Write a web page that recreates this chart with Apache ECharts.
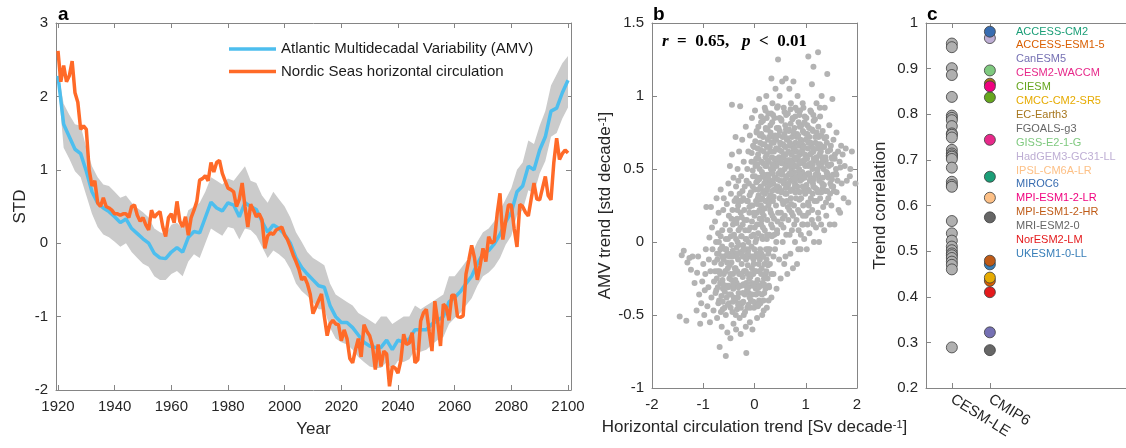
<!DOCTYPE html>
<html>
<head>
<meta charset="utf-8">
<title>AMV and Nordic Seas circulation</title>
<script src="https://cdn.jsdelivr.net/npm/echarts@6/dist/echarts.min.js"></script>
<style>
html,body{margin:0;padding:0;background:#fff;}
#main{width:1126px;height:448px;}
</style>
</head>
<body>
<div id="main"></div>
<script>
// ---------- panel a: time series ----------
var nordicYears = [];
for (var y = 1920; y <= 2100; y++) nordicYears.push(y);
var amvYears = [];
for (var y2 = 1920; y2 <= 2100; y2 += 2) amvYears.push(y2);

var nordic = [
  2.62, 2.20, 2.42, 2.20, 2.28, 2.48, 2.05, 1.92, 1.55, 1.60,
  1.55, 1.00, 0.78, 0.85, 0.55, 0.50, 0.62, 0.50, 0.48, 0.45,
  0.40, 0.40, 0.38, 0.40, 0.40, 0.35, 0.50, 0.52, 0.38, 0.30,
  0.35, 0.25, 0.18, 0.45, 0.35, 0.40, 0.43, 0.22, 0.09, 0.35,
  0.40, 0.28, 0.57, 0.30, 0.22, 0.36, 0.11, 0.35, 0.45, 0.57,
  0.86, 0.88, 0.92, 0.85, 1.10, 0.97, 1.10, 1.13, 0.95, 0.85,
  0.75, 0.73, 0.70, 0.50, 0.60, 0.82, 0.50, 0.22, 0.53, 0.45,
  0.36, 0.40, 0.32, -0.07, 0.10, 0.14, 0.12, 0.18, 0.20, 0.22,
  0.11, 0.05, -0.05, -0.16, -0.25, -0.35, -0.50, -0.46, -0.55, -0.69,
  -0.96, -0.87, -0.78, -0.69, -1.00, -1.26, -1.10, -1.05, -1.10, -1.11,
  -1.33, -1.18, -1.30, -1.57, -1.63, -1.45, -1.30, -1.55, -1.11, -1.20,
  -1.26, -1.40, -1.72, -1.38, -1.68, -1.47, -1.51, -1.95, -1.68, -1.70,
  -1.77, -1.60, -1.24, -1.38, -1.36, -1.22, -1.63, -1.59, -1.06, -0.95,
  -0.90, -1.20, -1.47, -0.79, -1.06, -1.40, -0.83, -0.87, -1.05, -0.71,
  -0.71, -1.00, -1.01, -0.99, -0.42, -0.23, -0.03, -0.20, -0.50, -0.30,
  -0.07, -0.25, 0.09, 0.00, 0.03, 0.40, 0.68, 0.05, 0.30, 0.52,
  0.52, 0.20, -0.05, 0.53, 0.50, 0.42, 0.37, 0.60, 0.82, 0.60,
  0.59, 0.75, 0.91, 0.65, 0.59, 1.10, 1.43, 1.14, 1.22, 1.27,
  1.23
];
var amv = [
  2.28, 1.62, 1.45, 1.28, 1.22,
  0.98, 0.70, 0.55, 0.48, 0.43,
  0.36, 0.28, 0.33, 0.20, 0.13,
  0.06, 0.00, -0.14, -0.20, -0.21,
  -0.12, -0.06, -0.12, 0.08, 0.16,
  0.14, 0.35, 0.56, 0.48, 0.44,
  0.55, 0.52, 0.36, 0.55, 0.50,
  0.46, 0.30, 0.15, 0.25, 0.20,
  0.12, 0.00, -0.20, -0.33, -0.42,
  -0.50, -0.58, -0.60, -0.85, -1.00,
  -1.08, -1.08, -1.15, -1.25, -1.35,
  -1.40, -1.42, -1.42, -1.32, -1.45,
  -1.32, -1.35, -1.30, -1.18, -1.18,
  -1.18, -1.10, -1.05, -1.00, -0.80,
  -0.74, -0.66, -0.55, -0.45, -0.28,
  -0.14, -0.10, -0.01, 0.12, 0.29,
  0.42, 0.70, 0.78, 1.05, 1.00,
  1.27, 1.45, 1.80, 1.84, 2.05,
  2.22
];
var amvHigh = [
  2.35, 1.90, 1.75, 1.62, 1.60,
  1.30, 1.05, 0.90, 0.80, 0.78,
  0.70, 0.62, 0.65, 0.55, 0.48,
  0.42, 0.35, 0.20, 0.15, 0.12,
  0.25, 0.28, 0.20, 0.45, 0.50,
  0.55, 0.70, 0.90, 0.85, 0.80,
  0.88, 0.85, 0.95, 1.05, 0.85,
  0.82, 0.65, 0.55, 0.70, 0.60,
  0.50, 0.35, 0.15, 0.02, -0.12,
  -0.20, -0.25, -0.30, -0.55, -0.70,
  -0.75, -0.80, -0.85, -0.95, -1.00,
  -1.05, -1.10, -1.00, -1.00, -1.10,
  -1.05, -1.00, -1.00, -0.85, -0.90,
  -0.85, -0.80, -0.75, -0.70, -0.45,
  -0.45, -0.35, -0.25, -0.15, 0.02,
  0.15, 0.20, 0.30, 0.45, 0.60,
  0.75, 1.00, 1.10, 1.40, 1.35,
  1.60, 1.80, 2.15, 2.30, 2.45,
  2.55
];
var amvLow = [
  2.20, 1.30, 1.15, 0.98, 0.90,
  0.65, 0.40, 0.22, 0.12, 0.08,
  0.02, -0.05, 0.00, -0.12, -0.20,
  -0.28, -0.32, -0.45, -0.50, -0.50,
  -0.42, -0.38, -0.45, -0.25, -0.15,
  -0.20, 0.00, 0.20, 0.15, 0.10,
  0.22, 0.20, 0.05, 0.20, 0.18,
  0.10, -0.05, -0.20, -0.10, -0.15,
  -0.22, -0.35, -0.55, -0.65, -0.72,
  -0.80, -0.90, -0.90, -1.15, -1.30,
  -1.35, -1.38, -1.45, -1.55, -1.62,
  -1.68, -1.70, -1.70, -1.62, -1.72,
  -1.60, -1.62, -1.58, -1.45, -1.48,
  -1.45, -1.38, -1.32, -1.28, -1.10,
  -1.02, -0.95, -0.85, -0.75, -0.58,
  -0.45, -0.40, -0.32, -0.20, -0.02,
  0.10, 0.38, 0.45, 0.72, 0.68,
  0.95, 1.12, 1.45, 1.50, 1.70,
  1.85
];
var yearTicks = [1920, 1940, 1960, 1980, 2000, 2020, 2040, 2060, 2080, 2100];

// ---------- panel b: trend scatter [circulation trend, AMV trend] ----------
var trendPts = [
  [-1.46,-0.51],[-1.42,-0.09],[-1.38,-0.06],[-1.33,-0.54],[-1.31,-0.14],[-1.27,-0.11],
  [-1.24,-0.19],[-1.21,-0.1],[-1.17,-0.28],[-1.13,-0.47],[-1.12,-0.21],[-1.08,-0.36],[-1.1,-0.1],[-1.06,-0.56],
  [-1.04,-0.42],[-1.02,-0.27],[-1.0,-0.15],[-0.98,-0.5],[-0.97,-0.33],[-0.95,-0.05],[-0.96,-0.22],[-0.94,0.24],
  [-0.92,-0.44],[-0.9,-0.31],[-0.89,-0.12],[-0.88,0.03],[-0.87,-0.55],[-0.86,-0.2],[-0.85,0.24],[-0.84,-0.38],[-0.83,0.1],[-0.82,-0.05],
  [-0.8,-0.47],[-0.79,-0.27],[-0.78,-0.14],[-0.77,0.14],[-0.76,-0.35],[-0.75,0.0],[-0.74,0.3],[-0.73,-0.52],[-0.72,-0.2],[-0.71,0.06],[-0.7,-0.08],[-0.7,0.2],
  [-0.69,-0.4],[-0.68,-0.72],[-0.67,-0.28],[-0.66,0.36],[-0.65,-0.15],[-0.64,-0.58],[-0.63,0.08],[-0.63,-0.03],[-0.62,-0.46],[-0.61,0.22],[-0.6,-0.22],[-0.6,0.3],[-0.59,-0.1],[-0.58,-0.34],
  [-0.57,0.12],[-0.56,-0.78],[-0.56,-0.5],[-0.55,-0.05],[-0.54,0.26],[-0.54,-0.3],[-0.53,-0.62],[-0.52,0.02],[-0.52,-0.18],[-0.51,0.4],[-0.5,-0.42],[-0.5,0.18],[-0.49,-0.1],[-0.49,-0.25],[-0.48,0.52],[-0.48,0.08],
  [-0.47,-0.66],[-0.46,-0.36],[-0.46,0.33],[-0.45,-0.14],[-0.45,-0.02],[-0.44,0.94],[-0.44,0.6],[-0.43,-0.48],[-0.43,0.22],[-0.42,-0.22],[-0.42,0.12],[-0.41,-0.56],[-0.41,0.44],[-0.4,-0.3],[-0.4,0.05],[-0.39,-0.08],[-0.39,0.28],[-0.38,-0.4],
  [-0.37,0.72],[-0.37,-0.18],[-0.36,-0.6],[-0.36,0.38],[-0.35,-0.04],[-0.35,-0.28],[-0.34,0.16],[-0.34,-0.46],[-0.33,0.5],[-0.33,0.0],[-0.32,-0.12],[-0.32,0.25],[-0.31,-0.35],[-0.31,0.08],[-0.3,-0.22],[-0.3,0.62],[-0.29,-0.52],[-0.29,0.33],[-0.28,-0.07],[-0.28,0.93],
  [-0.27,-0.63],[-0.27,0.2],[-0.26,-0.3],[-0.26,0.45],[-0.25,-0.15],[-0.25,0.04],[-0.24,-0.42],[-0.24,0.7],[-0.23,0.12],[-0.23,-0.24],[-0.22,0.3],[-0.22,-0.02],[-0.21,-0.5],[-0.21,0.55],[-0.2,-0.1],[-0.2,0.22],[-0.19,-0.36],[-0.19,0.38],[-0.18,-0.2],[-0.18,0.08],[-0.17,0.79],[-0.17,-0.58],
  [-0.16,-0.76],[-0.16,-0.28],[-0.15,0.15],[-0.15,-0.05],[-0.14,0.5],[-0.14,-0.45],[-0.13,0.28],[-0.13,-0.16],[-0.12,0.62],[-0.12,0.0],[-0.11,-0.35],[-0.11,0.4],[-0.1,-0.1],[-0.1,0.2],[-0.09,-0.55],[-0.09,0.73],[-0.08,-0.24],[-0.08,0.1],[-0.07,0.34],[-0.07,-0.4],[-0.06,0.55],[-0.06,-0.03],[-0.05,0.85],[-0.05,-0.18],
  [-0.04,-0.6],[-0.04,0.25],[-0.03,-0.3],[-0.03,0.45],[-0.02,0.05],[-0.02,-0.12],[-0.01,0.65],[-0.01,-0.45],[0.0,0.18],[0.0,0.36],[0.01,-0.2],[0.01,0.9],[0.02,0.0],[0.02,0.52],[0.03,-0.36],[0.03,0.28],[0.04,-0.08],[0.04,0.75],[0.05,0.12],[0.05,-0.52],[0.06,0.42],[0.06,-0.26],[0.07,0.6],[0.07,0.06],[0.08,0.32],[0.08,-0.15],
  [0.09,0.98],[0.09,-0.4],[0.1,0.22],[0.1,0.5],[0.11,-0.05],[0.11,0.68],[0.12,-0.3],[0.12,0.38],[0.13,0.12],[0.13,0.82],[0.14,-0.18],[0.14,0.55],[0.15,0.3],[0.15,-0.5],[0.16,0.02],[0.16,0.45],[0.17,0.72],[0.17,-0.1],[0.18,0.18],[0.18,0.62],[0.19,-0.35],[0.19,0.4],[0.2,0.92],[0.2,0.08],[0.21,0.28],[0.21,0.52],[0.22,-0.22],[0.22,0.78],
  [0.23,1.0],[0.23,0.35],[0.24,-0.45],[0.24,0.6],[0.25,0.15],[0.25,0.46],[0.26,-0.05],[0.26,0.7],[0.27,0.25],[0.27,0.88],[0.28,-0.3],[0.28,0.55],[0.29,0.05],[0.29,0.4],[0.3,0.65],[0.3,-0.15],[0.31,0.32],[0.31,0.8],[0.32,0.5],[0.32,0.2],[0.33,1.12],[0.33,-0.38],[0.34,0.58],[0.34,0.42],[0.35,0.1],[0.35,0.95],[0.36,0.28],[0.36,0.72],
  [0.37,-0.22],[0.37,0.5],[0.38,0.62],[0.38,0.16],[0.39,0.85],[0.39,0.36],[0.4,-0.05],[0.4,0.56],[0.41,0.44],[0.41,1.05],[0.42,0.25],[0.42,0.7],[0.43,-0.32],[0.43,0.52],[0.44,0.08],[0.44,0.92],[0.45,0.38],[0.45,0.64],[0.46,1.25],[0.46,0.2],[0.47,0.78],[0.47,0.47],[0.48,-0.12],[0.48,0.58],[0.49,0.3],[0.49,1.0],[0.5,0.68],[0.5,0.42],
  [0.51,-0.25],[0.51,0.55],[0.52,0.12],[0.52,0.84],[0.53,0.35],[0.53,0.62],[0.54,0.48],[0.54,1.1],[0.55,0.0],[0.55,0.72],[0.56,0.26],[0.56,0.58],[0.57,0.92],[0.57,0.4],[0.58,-0.15],[0.58,0.66],[0.59,0.5],[0.59,0.18],[0.6,0.8],[0.6,0.33],[0.61,1.12],[0.61,0.6],[0.62,0.45],[0.62,0.05],[0.63,0.7],[0.63,0.28],
  [0.64,-0.22],[0.64,0.52],[0.65,0.88],[0.65,0.38],[0.66,0.62],[0.66,0.15],[0.67,0.76],[0.67,0.46],[0.68,1.05],[0.68,0.22],[0.69,0.56],[0.69,0.66],[0.7,-0.08],[0.7,0.42],[0.71,0.95],[0.71,0.3],[0.72,0.6],[0.72,0.5],[0.73,0.72],[0.73,0.08],[0.74,0.84],[0.74,0.36],[0.75,0.55],[0.75,-0.18],[0.76,0.65],[0.76,1.1],
  [0.77,0.25],[0.77,0.48],[0.78,0.78],[0.78,0.58],[0.79,0.0],[0.79,0.4],[0.8,0.92],[0.8,0.68],[0.81,0.3],[0.81,0.52],[0.82,0.15],[0.82,0.62],[0.83,-0.15],[0.83,0.74],[0.84,0.45],[0.84,1.0],[0.85,0.56],[0.85,0.35],[0.86,0.82],[0.86,0.08],[0.87,0.66],[0.87,0.5],[0.88,0.2],[0.88,0.6],
  [0.89,0.9],[0.89,0.42],[0.9,0.7],[0.9,-0.05],[0.91,0.55],[0.91,0.3],[0.92,0.62],[0.92,0.8],[0.93,0.12],[0.93,0.48],[0.94,0.95],[0.94,0.38],[0.95,0.66],[0.95,0.25],[0.96,0.56],[0.96,0.75],[0.97,0.02],[0.97,0.45],[0.98,0.6],[0.98,0.86],[0.99,0.33],[0.99,0.52],
  [1.0,0.7],[1.0,0.18],[1.01,0.58],[1.02,-0.05],[1.02,0.46],[1.03,0.8],[1.04,0.36],[1.04,0.64],[1.05,1.27],[1.05,0.52],[1.06,0.25],[1.07,0.72],[1.07,0.06],[1.08,0.6],[1.08,0.42],[1.09,0.9],[1.1,0.54],[1.1,0.3],[1.11,0.66],[1.12,1.08],
  [1.12,0.15],[1.13,0.5],[1.14,0.76],[1.14,0.4],[1.15,1.2],[1.15,0.62],[1.16,0.0],[1.17,0.56],[1.17,0.28],[1.18,0.84],[1.19,0.46],[1.19,0.68],[1.2,0.1],[1.21,0.58],[1.21,0.95],[1.22,0.36],[1.23,0.64],[1.23,0.5],
  [1.24,1.3],[1.24,0.2],[1.25,0.72],[1.26,0.44],[1.26,0.0],[1.27,0.6],[1.28,0.86],[1.28,0.3],[1.29,0.52],[1.3,0.66],[1.3,0.12],[1.31,1.0],[1.32,0.4],[1.32,0.58],[1.33,0.76],[1.34,0.24],
  [1.35,0.5],[1.36,0.65],[1.36,0.08],[1.37,0.92],[1.38,0.35],[1.39,0.56],[1.4,0.72],[1.4,0.18],[1.41,0.45],[1.42,1.15],[1.43,0.62],[1.44,0.3],
  [1.45,0.52],[1.46,0.8],[1.47,0.12],[1.48,0.4],[1.49,0.66],[1.5,0.25],[1.51,0.58],[1.52,0.98],[1.53,0.46],[1.54,0.7],
  [1.55,0.35],[1.56,0.12],[1.57,0.6],[1.59,0.5],[1.6,0.75],[1.62,0.42],[1.63,0.62],[1.64,0.22],
  [1.66,0.55],[1.67,0.2],[1.69,0.66],[1.7,0.4],[1.72,0.6],[1.74,0.3],[1.76,0.52],[1.78,0.64],
  [1.8,0.42],[1.83,0.27],[1.86,0.45],[1.87,0.5],[1.9,0.62],[1.97,0.4],
  // dense lower lobe
  [-0.745,-0.33],[-0.725,-0.12],[-0.705,-0.42],[-0.685,-0.2],[-0.665,-0.05],[-0.645,-0.37],[-0.625,-0.26],[-0.605,-0.12],[-0.585,-0.45],[-0.565,-0.2],
  [-0.545,-0.38],[-0.525,-0.08],[-0.505,-0.3],[-0.485,-0.16],[-0.465,-0.45],[-0.445,-0.26],[-0.425,-0.06],[-0.405,-0.38],[-0.385,-0.18],[-0.365,-0.5],
  [-0.345,-0.1],[-0.325,-0.38],[-0.305,-0.02],[-0.285,-0.3],[-0.265,-0.45],[-0.245,-0.07],[-0.225,-0.35],[-0.205,-0.2],[-0.185,-0.48],[-0.165,-0.12],
  [-0.145,-0.33],[-0.125,-0.06],[-0.105,-0.25],[-0.085,-0.45],[-0.065,-0.1],[-0.045,-0.36],[-0.025,-0.22],[-0.005,-0.05],[0.015,-0.42],[0.035,-0.28],
  [0.055,-0.1],[0.075,-0.35],[0.095,-0.2],[0.115,-0.42],[0.135,-0.08],[0.155,-0.28],[0.175,-0.4],[0.195,-0.15],[0.215,-0.32],[0.235,-0.12],
  [0.255,-0.25],[0.275,-0.4],[0.295,-0.05],
  [-0.735,-0.25],[-0.695,0.0],[-0.655,-0.48],[-0.615,-0.32],[-0.575,-0.05],[-0.535,-0.14],[-0.495,-0.36],[-0.455,-0.08],[-0.415,-0.32],[-0.375,-0.26],
  [-0.335,-0.2],[-0.295,-0.42],[-0.255,-0.22],[-0.215,-0.05],[-0.175,-0.3],[-0.135,-0.22],[-0.095,-0.38],[-0.055,-0.28],[-0.015,-0.15],[0.025,-0.32],
  [0.065,-0.44],[0.105,-0.12],[0.145,-0.36],[0.185,-0.25],[0.225,-0.05],[0.265,-0.16],
  [-0.62,-0.41],[-0.52,-0.43],[-0.42,-0.41],[-0.32,-0.43],[-0.22,-0.41],[-0.12,-0.43],[-0.02,-0.41],[0.08,-0.43],[0.18,-0.47],
  [-0.715,-0.31],[-0.615,-0.29],[-0.515,-0.31],[-0.415,-0.29],[-0.315,-0.31],[-0.215,-0.29],[-0.115,-0.31],[-0.015,-0.29],[0.085,-0.31],[0.185,-0.29],[0.285,-0.31],
  [-0.77,-0.2],[-0.67,-0.22],[-0.57,-0.2],[-0.47,-0.22],[-0.37,-0.2],[-0.27,-0.22],[-0.17,-0.2],[-0.07,-0.22],[0.03,-0.2],[0.13,-0.22],[0.23,-0.2],[0.33,-0.22],
  [-0.73,-0.08],[-0.63,-0.1],[-0.53,-0.08],[-0.43,-0.1],[-0.33,-0.08],[-0.23,-0.1],[-0.13,-0.08],[-0.03,-0.1],[0.07,-0.08],[0.17,-0.1],[0.27,-0.08],[0.37,-0.1],
  [-0.66,0.04],[-0.56,0.02],[-0.46,0.04],[-0.36,0.02],[-0.26,0.04],[-0.16,0.02],[-0.06,0.04],[0.04,0.02],[0.14,0.04],[0.24,0.02],[0.34,0.04],[0.44,0.06],
  // link between the lobes
  [-0.395,0.15],[-0.355,0.3],[-0.315,0.42],[-0.275,0.1],[-0.235,0.35],[-0.195,0.15],[-0.155,0.42],[-0.115,0.08],[-0.075,0.25],[-0.035,0.38],
  [0.005,0.1],[0.045,0.2],[0.085,0.44],[0.125,0.25],[0.165,0.1],[0.205,0.35],[0.245,0.05],[0.285,0.3],[0.325,0.12],[0.365,0.4],
  [-0.335,0.22],[-0.255,0.28],[-0.175,0.02],[-0.095,0.32],[-0.015,0.2],[0.065,0.3],[0.145,0.15],[0.225,0.42],[0.305,0.22],[0.385,0.05],
  [-0.45,0.16],[-0.35,0.13],[-0.25,0.17],[-0.15,0.28],[-0.05,0.14],[0.05,0.26],[0.15,0.2],[0.25,0.28],[0.35,0.18],[0.45,0.14],
  [0.55,0.16],[0.65,0.24],[0.75,0.18],[0.85,0.22],[0.95,0.12],[1.05,0.2],[1.15,0.12],[1.25,0.16],[-0.3,0.28],[-0.1,0.24],[0.1,0.16],[0.2,0.23],
  // dense upper core
  [0.115,0.29],[0.205,0.33],[0.285,0.27],[0.375,0.31],[0.455,0.35],[0.545,0.28],[0.625,0.33],[0.715,0.26],[0.795,0.34],[0.875,0.29],
  [0.965,0.35],[1.045,0.27],[1.135,0.33],[1.215,0.28],[1.305,0.34],[1.395,0.27],[1.475,0.33],
  [0.035,0.41],[0.125,0.37],[0.215,0.43],[0.305,0.39],[0.395,0.44],[0.485,0.37],[0.575,0.42],[0.665,0.4],[0.745,0.45],[0.835,0.38],
  [0.925,0.43],[1.015,0.39],[1.095,0.44],[1.185,0.37],[1.265,0.42],[1.355,0.39],[1.445,0.44],[1.535,0.38],
  [-0.035,0.49],[0.055,0.53],[0.145,0.48],[0.235,0.52],[0.325,0.47],[0.415,0.54],[0.505,0.49],[0.595,0.53],[0.685,0.47],[0.775,0.52],
  [0.865,0.48],[0.955,0.54],[1.045,0.47],[1.135,0.53],[1.225,0.49],[1.315,0.54],[1.405,0.48],[1.495,0.53],[1.585,0.47],[1.675,0.51],
  [-0.055,0.61],[0.035,0.57],[0.125,0.63],[0.215,0.58],[0.305,0.62],[0.395,0.57],[0.485,0.63],[0.575,0.6],[0.665,0.56],[0.755,0.62],
  [0.845,0.58],[0.935,0.63],[1.025,0.57],[1.115,0.61],[1.205,0.56],[1.295,0.62],[1.385,0.58],[1.475,0.63],[1.565,0.57],
  [0.015,0.69],[0.105,0.73],[0.195,0.67],[0.285,0.72],[0.375,0.68],[0.465,0.73],[0.555,0.67],[0.645,0.71],[0.735,0.66],[0.825,0.72],
  [0.915,0.68],[1.005,0.74],[1.095,0.68],[1.185,0.72],[1.275,0.67],[1.365,0.71],
  [0.075,0.79],[0.165,0.83],[0.255,0.77],[0.345,0.82],[0.435,0.78],[0.525,0.83],[0.615,0.77],[0.705,0.81],[0.795,0.86],[0.885,0.79],
  [0.975,0.82],[1.065,0.78],[1.155,0.83],[1.245,0.79],
  [0.215,0.9],[0.325,0.88],[0.455,0.93],[0.585,0.89],[0.705,0.91],[0.835,0.9],[0.955,0.92],[1.105,0.89],[1.275,0.92],
  [0.425,0.0],[0.515,0.2],[0.605,-0.1],[0.685,0.05],[0.775,0.12],[0.855,-0.05],[0.945,0.18],[1.035,0.12],[1.125,0.22],[0.565,0.1],
  [0.725,0.2],[0.905,0.05],
  [0.072,0.36],[0.168,0.34],[0.251,0.37],[0.342,0.35],[0.431,0.38],[0.522,0.34],[0.611,0.37],[0.703,0.35],[0.788,0.38],[0.879,0.34],
  [0.972,0.37],[1.063,0.35],[1.149,0.38],[1.238,0.34],[1.331,0.37],[1.418,0.35],[1.505,0.38],[1.602,0.34],
  [0.008,0.45],[0.092,0.43],[0.181,0.46],[0.268,0.44],[0.357,0.47],[0.446,0.43],[0.532,0.46],[0.621,0.44],[0.712,0.47],[0.801,0.43],
  [0.889,0.46],[0.978,0.44],[1.067,0.47],[1.158,0.43],[1.244,0.46],[1.333,0.44],[1.422,0.47],[1.511,0.43],[1.598,0.46],
  [-0.012,0.55],[0.078,0.57],[0.167,0.54],[0.259,0.56],[0.348,0.53],[0.437,0.57],[0.528,0.54],[0.617,0.56],[0.706,0.53],[0.797,0.57],
  [0.886,0.54],[0.977,0.56],[1.066,0.53],[1.155,0.57],[1.244,0.54],[1.335,0.56],[1.424,0.53],[1.513,0.57],
  [-0.028,0.66],[0.061,0.64],[0.152,0.67],[0.241,0.65],[0.332,0.68],[0.421,0.64],[0.512,0.67],[0.601,0.65],[0.692,0.68],[0.781,0.64],
  [0.872,0.67],[0.961,0.65],[1.052,0.68],[1.141,0.64],[1.232,0.67],[1.321,0.65],[1.412,0.68],
  [0.043,0.76],[0.132,0.74],[0.223,0.77],[0.312,0.75],[0.403,0.73],[0.492,0.76],[0.583,0.74],[0.672,0.77],[0.763,0.75],[0.852,0.73],
  [0.943,0.76],[1.032,0.74],[1.123,0.77],[1.212,0.75],[1.303,0.73],
  [0.128,0.86],[0.238,0.85],[0.362,0.87],[0.488,0.85],[0.618,0.87],[0.745,0.85],[0.878,0.87],[1.012,0.85],[1.148,0.87]
];

// ---------- panel c: trend correlation ----------
var cesmCorr = [0.955, 0.947, 0.901, 0.886, 0.838, 0.797, 0.792, 0.787, 0.774, 0.758, 0.755, 0.749,
  0.722, 0.714, 0.71, 0.707, 0.702, 0.683, 0.652, 0.645, 0.641, 0.566, 0.539, 0.523, 0.51,
  0.502, 0.495, 0.491, 0.485, 0.477, 0.47, 0.46, 0.289];
var cmipModels = ['ACCESS-CM2', 'ACCESS-ESM1-5', 'CanESM5', 'CESM2-WACCM', 'CIESM', 'CMCC-CM2-SR5',
  'EC-Earth3', 'FGOALS-g3', 'GISS-E2-1-G', 'HadGEM3-GC31-LL', 'IPSL-CM6A-LR', 'MIROC6',
  'MPI-ESM1-2-LR', 'MPI-ESM1-2-HR', 'MRI-ESM2-0', 'NorESM2-LM', 'UKESM1-0-LL'];
var cmipCorr = [0.663, 0.435, 0.322, 0.744, 0.837, 0.442, 0.867, 0.283, 0.896, 0.967, 0.617, 0.981,
  0.861, 0.479, 0.574, 0.41, 0.471];
var cmipColors = ['#1b9e77', '#d95f02', '#7570b3', '#e7298a', '#66a61e', '#e6ab02', '#a6761d', '#666666',
  '#7fc97f', '#beaed4', '#fdc086', '#386cb0', '#f0027f', '#bf5b17', '#666666', '#e41a1c', '#377eb8'];
var groupNames = ['CESM-LE', 'CMIP6'];

var axisColor = '#858585';
var textColor = '#262626';
var fontFam = '"Liberation Sans", Arial, Helvetica, sans-serif';

function xFrame(grid, min, max, pos, ticks, extra) {
  var ax = {
    gridIndex: grid, type: 'value', min: min, max: max, position: pos,
    axisLine: { show: true, onZero: false, lineStyle: { color: axisColor, width: 1 } },
    axisTick: { show: true, inside: true, length: 5, lineStyle: { color: axisColor } },
    axisLabel: { show: pos === 'bottom', color: textColor, fontSize: 15, fontFamily: fontFam, margin: 9 },
    splitLine: { show: false }
  };
  if (ticks) { ax.axisTick.customValues = ticks; ax.axisLabel.customValues = ticks; }
  return Object.assign(ax, extra || {});
}
function yFrame(grid, min, max, step, pos, extra) {
  var ax = {
    gridIndex: grid, type: 'value', min: min, max: max, interval: step, position: pos,
    axisLine: { show: true, onZero: false, lineStyle: { color: axisColor, width: 1 } },
    axisTick: { show: true, inside: true, length: 5, lineStyle: { color: axisColor } },
    axisLabel: { show: pos === 'left', color: textColor, fontSize: 15, fontFamily: fontFam, margin: 8 },
    splitLine: { show: false }
  };
  return Object.assign(ax, extra || {});
}
var nameStyle = { fontSize: 17, color: textColor, fontFamily: fontFam };
var supRich = {
  a: { fontSize: 17, color: textColor, fontFamily: fontFam },
  s: { fontSize: 11, color: textColor, fontFamily: fontFam, verticalAlign: 'top', lineHeight: 12 }
};

var amvName = 'Atlantic Multidecadal Variability (AMV)';
var nordicName = 'Nordic Seas horizontal circulation';

var series = [
  {
    // ensemble spread around the AMV mean, drawn as one polygon through the axis scales
    name: 'band', type: 'custom', xAxisIndex: 0, yAxisIndex: 0, silent: true, z: 1,
    data: [[amvYears[0], amvLow[0]]],
    renderItem: function (params, api) {
      var pts = [];
      for (var i = 0; i < amvYears.length; i++) pts.push(api.coord([amvYears[i], amvHigh[i]]));
      for (var j = amvYears.length - 1; j >= 0; j--) pts.push(api.coord([amvYears[j], amvLow[j]]));
      return { type: 'polygon', shape: { points: pts }, style: { fill: '#cbcbcb' } };
    }
  },
  {
    name: amvName, type: 'line', xAxisIndex: 0, yAxisIndex: 0, symbol: 'none', z: 3,
    lineStyle: { color: '#4dbeee', width: 3.5 }, itemStyle: { color: '#4dbeee' },
    data: amvYears.map(function (yr, i) { return [yr, amv[i]]; })
  },
  {
    name: nordicName, type: 'line', xAxisIndex: 0, yAxisIndex: 0, symbol: 'none', z: 4,
    lineStyle: { color: '#ff6a28', width: 3.5 }, itemStyle: { color: '#ff6a28' },
    data: nordicYears.map(function (yr, i) { return [yr, nordic[i]]; })
  },
  {
    name: 'trends', type: 'scatter', xAxisIndex: 2, yAxisIndex: 2, symbolSize: 6, silent: true,
    large: false, itemStyle: { color: '#b3b3b3', opacity: 1 }, data: trendPts
  },
  {
    name: 'CESM-LE', type: 'scatter', xAxisIndex: 4, yAxisIndex: 4, symbolSize: 11, silent: true,
    itemStyle: { color: '#b0b0b0', borderColor: '#3c3c3c', borderWidth: 0.8, opacity: 1 },
    data: cesmCorr.map(function (v) { return [1, v]; })
  }
];
cmipModels.forEach(function (m, i) {
  series.push({
    name: m, type: 'scatter', xAxisIndex: 4, yAxisIndex: 4, symbolSize: 11, silent: true,
    z: m === 'UKESM1-0-LL' ? 1 : 2,
    itemStyle: { color: cmipColors[i], borderColor: '#3c3c3c', borderWidth: 0.8, opacity: 1 },
    data: [[2, cmipCorr[i]]]
  });
});

var xYear = xFrame(0, 1919.3, 2101.06, 'bottom', yearTicks, {
  name: 'Year', nameLocation: 'middle', nameGap: 31, nameTextStyle: nameStyle
});
xYear.axisLabel.formatter = function (v) { return String(Math.round(v)); };

var chart = echarts.init(document.getElementById('main'), null, { renderer: 'canvas' });
chart.setOption({
  animation: false,
  backgroundColor: '#ffffff',
  textStyle: { fontFamily: fontFam },
  grid: [
    { left: 56, top: 23, width: 515, height: 367 },
    { left: 652, top: 23, width: 205, height: 365 },
    { left: 926, top: 23, width: 200, height: 365 }
  ],
  xAxis: [
    xYear,
    xFrame(0, 1919.3, 2101.06, 'top', yearTicks),
    xFrame(1, -2, 2, 'bottom', null, {
      interval: 1, name: '{a|Horizontal circulation trend [Sv decade}{s|-1}{a|]}',
      nameLocation: 'middle', nameGap: 31, nameTextStyle: { rich: supRich }
    }),
    xFrame(1, -2, 2, 'top', null, { interval: 1 }),
    xFrame(2, 0.32, 5.58, 'bottom', [1, 2], {
      axisLabel: {
        show: true, customValues: [1, 2], rotate: -32, margin: 10, color: textColor, fontSize: 15, fontFamily: fontFam,
        formatter: function (v) { return groupNames[Math.round(v) - 1]; }
      }
    }),
    xFrame(2, 0.32, 5.58, 'top', [1, 2])
  ],
  yAxis: [
    yFrame(0, -2, 3, 1, 'left', { name: 'STD', nameLocation: 'middle', nameGap: 27, nameTextStyle: nameStyle }),
    yFrame(0, -2, 3, 1, 'right'),
    yFrame(1, -1, 1.5, 0.5, 'left', {
      name: '{a|AMV trend [std decade}{s|-1}{a|]}', nameLocation: 'middle', nameGap: 37,
      nameTextStyle: { rich: supRich }
    }),
    yFrame(1, -1, 1.5, 0.5, 'right'),
    yFrame(2, 0.2, 1, 0.1, 'left', { name: 'Trend correlation', nameLocation: 'middle', nameGap: 37, nameTextStyle: nameStyle })
  ],
  legend: [
    {
      data: [amvName, nordicName], orient: 'vertical', left: 229, top: 41, padding: 0,
      icon: 'rect', itemWidth: 47, itemHeight: 3.5, itemGap: 6.5, selectedMode: false,
      textStyle: { fontSize: 15, lineHeight: 16, color: '#1a1a1a', fontFamily: fontFam }
    },
    {
      data: cmipModels.map(function (m, i) { return { name: m, icon: 'none', textStyle: { color: cmipColors[i] } }; }),
      orient: 'vertical', left: 1011, top: 25.5, itemWidth: 0, itemHeight: 10, itemGap: 1.9,
      selectedMode: false, padding: 0,
      textStyle: { fontSize: 11, lineHeight: 12, fontFamily: fontFam }
    }
  ],
  graphic: [
    { type: 'text', left: 58, top: 5, style: { text: 'a', font: 'bold 19px ' + fontFam, fill: '#000' } },
    { type: 'text', left: 653, top: 5, style: { text: 'b', font: 'bold 19px ' + fontFam, fill: '#000' } },
    { type: 'text', left: 927, top: 5, style: { text: 'c', font: 'bold 19px ' + fontFam, fill: '#000' } },
    {
      type: 'text', left: 662, top: 33,
      style: {
        text: '{i|r}{n|  =  0.65,   }{i|p}{n|  <  0.01}',
        rich: {
          i: { font: 'italic bold 17px "Liberation Serif", "DejaVu Serif", serif', fill: '#000' },
          n: { font: 'bold 17px "Liberation Serif", "DejaVu Serif", serif', fill: '#000' }
        }
      }
    }
  ],
  series: series
});
</script>
</body>
</html>
